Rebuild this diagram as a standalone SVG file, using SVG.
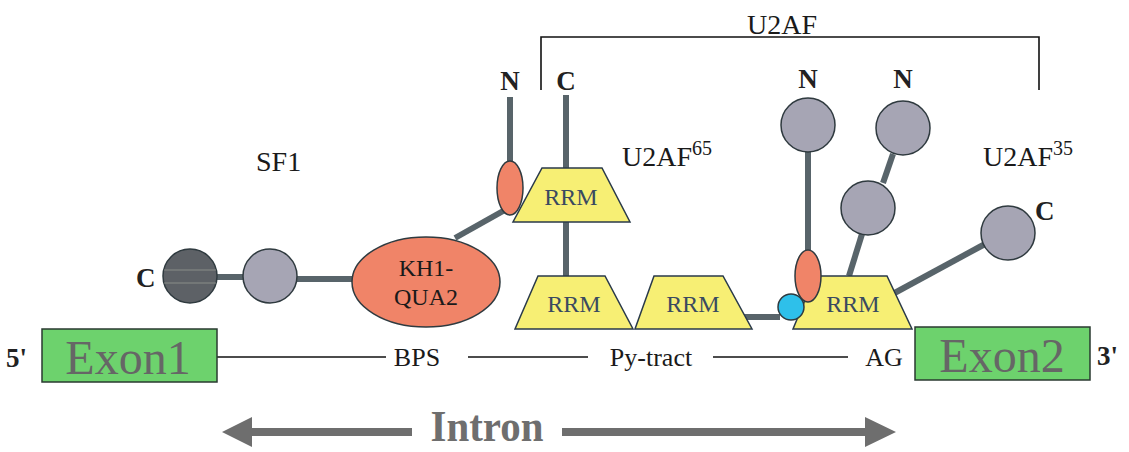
<svg xmlns="http://www.w3.org/2000/svg" width="1129" height="452" viewBox="0 0 1129 452">
<defs>
<style>
text{font-family:"Liberation Serif","Times New Roman",serif;fill:#1a1a1a}
.lbl{font-size:28px}
.site{font-size:26px;text-anchor:middle}
.term{font-size:27px;font-weight:bold;fill:#222}
.rrm{fill:#f7ef74;stroke:#2a3a4a;stroke-width:1.5}
.rrmt{font-size:24px;fill:#3a4a60;text-anchor:middle}
.dom{fill:#a6a5b4;stroke:#2f3a3f;stroke-width:1.5}
.link{stroke:#58646a;stroke-width:6;fill:none}
.sal{fill:#f08468;stroke:#2f3a3f;stroke-width:1.5}
.exon{fill:#6dd26d;stroke:#2a3a30;stroke-width:1.5}
.exont{font-size:48px;fill:#666666;text-anchor:middle}
.bline{stroke:#111;stroke-width:1.6;fill:none}
</style>
</defs>
<rect width="1129" height="452" fill="#ffffff"/>

<g id="connectors">
<polyline class="bline" points="541,90 541,37 1039,37 1039,90"/>
<line class="bline" x1="217" y1="357" x2="386" y2="357"/>
<line class="bline" x1="468" y1="357" x2="588" y2="357"/>
<line class="bline" x1="713" y1="357" x2="848" y2="357"/>
<line class="link" x1="217" y1="277" x2="243" y2="277"/>
<line class="link" x1="297" y1="279" x2="353" y2="279"/>
<line class="link" x1="455" y1="238" x2="512" y2="206"/>
<line class="link" x1="510" y1="97" x2="510" y2="162"/>
<line class="link" x1="566" y1="95" x2="566" y2="169"/>
<line class="link" x1="566" y1="222" x2="566" y2="276"/>
<line class="link" x1="742" y1="317" x2="780" y2="317"/>
<line class="link" x1="808" y1="152" x2="808" y2="250"/>
<line class="link" x1="893" y1="154" x2="883" y2="183"/>
<line class="link" x1="862" y1="234" x2="849" y2="276"/>
<line class="link" x1="889" y1="296" x2="985" y2="244"/>
</g>

<g id="bracket-label"><text class="lbl" x="782" y="34" text-anchor="middle">U2AF</text></g>

<g id="sf1-label"><text class="lbl" x="256" y="171">SF1</text></g>
<g id="u2af65-label"><text class="lbl" x="622" y="166" font-size="30">U2AF<tspan font-size="20" dy="-11">65</tspan></text></g>
<g id="u2af35-label"><text class="lbl" x="983" y="166" font-size="30">U2AF<tspan font-size="20" dy="-11">35</tspan></text></g>

<g id="sf1-c-domain">
<circle cx="190" cy="276" r="27" fill="#5d6166" stroke="#2f3a3f" stroke-width="1.5"/>
<line x1="164" y1="270" x2="216" y2="270" stroke="#8a8e88" stroke-width="1"/>
<line x1="164" y1="283" x2="216" y2="283" stroke="#8a8e88" stroke-width="1"/>
<text class="term" x="136" y="287">C</text>
</g>
<g id="sf1-domain2"><circle class="dom" cx="270" cy="276" r="27"/></g>
<g id="kh1-qua2">
<ellipse class="sal" cx="426" cy="282" rx="74" ry="45"/>
<text x="426" y="276" font-size="24" fill="#3a4a60" text-anchor="middle">KH1-</text>
<text x="426" y="305" font-size="24" fill="#3a4a60" text-anchor="middle">QUA2</text>
</g>

<g id="u2af65-n">
<ellipse class="sal" cx="510" cy="188" rx="13" ry="27"/>
<text class="term" x="510" y="90" text-anchor="middle">N</text>
</g>
<g id="rrm1">
<polygon class="rrm" points="542,168 602,168 630,222 513,222"/>
<text class="rrmt" x="571" y="205">RRM</text>
<text class="term" x="566" y="90" text-anchor="middle">C</text>
</g>
<g id="rrm2">
<polygon class="rrm" points="538,276 605,276 633,329 515,329"/>
<text class="rrmt" x="574" y="312">RRM</text>
</g>
<g id="rrm3">
<polygon class="rrm" points="654,276 723,276 752,329 635,329"/>
<text class="rrmt" x="693" y="312">RRM</text>
</g>

<g id="u2af35-rrm">
<polygon class="rrm" points="815,276 887,276 912,329 793,329"/>
<text class="rrmt" x="853" y="312">RRM</text>
</g>
<g id="u2af35-orange"><ellipse class="sal" cx="808" cy="276" rx="13" ry="26"/></g>
<g id="u2af35-blue"><circle cx="791" cy="307" r="13" fill="#2ec0ea" stroke="#2f3a3f" stroke-width="1.5"/></g>
<g id="u2af35-n1">
<circle class="dom" cx="808" cy="125" r="27"/>
<text class="term" x="808" y="88" text-anchor="middle">N</text>
</g>
<g id="u2af35-n2">
<circle class="dom" cx="903" cy="128" r="27"/>
<text class="term" x="903" y="88" text-anchor="middle">N</text>
</g>
<g id="u2af35-mid"><circle class="dom" cx="868" cy="208" r="27"/></g>
<g id="u2af35-c">
<circle class="dom" cx="1008" cy="233" r="27"/>
<text class="term" x="1035" y="220">C</text>
</g>

<g id="exon1">
<rect class="exon" x="42" y="329" width="175" height="53"/>
<text class="exont" x="128" y="374">Exon1</text>
<text class="term" x="6" y="367">5'</text>
</g>
<g id="exon2">
<rect class="exon" x="915" y="327" width="175" height="53"/>
<text class="exont" x="1002" y="372">Exon2</text>
<text class="term" x="1097" y="365">3'</text>
</g>

<g id="sites">
<text class="site" x="417" y="366">BPS</text>
<text class="site" x="651" y="366">Py-tract</text>
<text class="site" x="884" y="366">AG</text>
</g>

<g id="intron">
<polygon points="222,432 252,417 252,428 412,428 412,436 252,436 252,447" fill="#6e6e6e"/>
<polygon points="562,428 865,428 865,417 896,432 865,447 865,436 562,436" fill="#6e6e6e"/>
<text x="487" y="441" text-anchor="middle" font-size="44" font-weight="bold" style="fill:#6e6e6e" transform="translate(487 0) scale(0.93 1) translate(-487 0)">Intron</text>
</g>
</svg>
